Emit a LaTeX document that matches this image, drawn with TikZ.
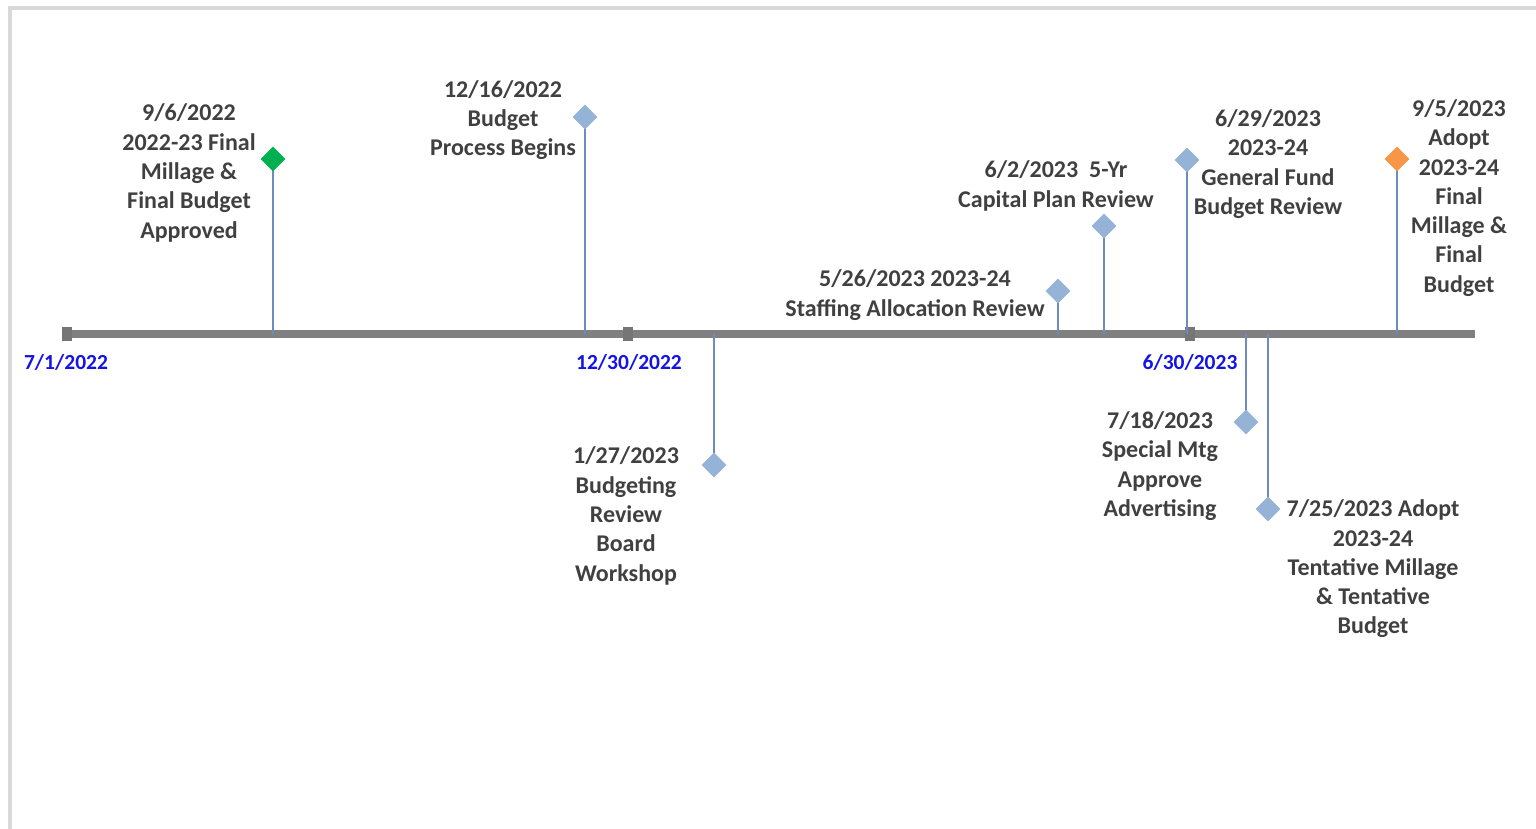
\documentclass[tikz,border=0pt]{standalone}
\usepackage{fontspec}
\setmainfont{Carlito}
\usetikzlibrary{shapes.geometric}
\definecolor{txt}{HTML}{404040}
\definecolor{dblue}{HTML}{1414E6}
\definecolor{axisgray}{HTML}{808080}
\definecolor{tickgray}{HTML}{767676}
\definecolor{stemblue}{HTML}{6A8CC0}
\definecolor{diablue}{HTML}{95B3D7}
\definecolor{diagreen}{HTML}{00B050}
\definecolor{diaorange}{HTML}{F79646}
\definecolor{framegray}{HTML}{D9D9D9}
\begin{document}
\begin{tikzpicture}[x=1pt,y=-1pt,
  lbl/.style={font=\fontsize{24}{29.3}\selectfont\bfseries, text=txt, align=center, inner sep=0pt},
  datelbl/.style={font=\fontsize{21.5}{25}\selectfont\bfseries, text=dblue, inner sep=0pt},
  dia/.style={diamond, fill=#1, draw=none, minimum width=25pt, minimum height=25pt, inner sep=0pt},
  dia/.default=diablue,
  stem/.style={draw=stemblue, line width=1.6pt},
  tickmark/.style={fill=tickgray, draw=none, minimum width=10pt, minimum height=14pt, inner sep=0pt}]
\useasboundingbox (0,0) rectangle (1536,828);
\fill[white] (0,0) rectangle (1536,828);
% frame
\draw[framegray, line width=4pt] (10,830) -- (10,8) -- (1540,8);
% axis
\coordinate (ax0) at (62,334);
\coordinate (ax1) at (1475,334);
\draw[axisgray, line width=8pt] (ax0) -- (ax1);
\node[tickmark] (t0) at (67,334) {};
\node[tickmark] (t1) at (628,334) {};
\node[tickmark] (t2) at (1190,334) {};
\node[datelbl] (l0) at (66,362) {7/1/2022};
\node[datelbl] (l1) at (629,362) {12/30/2022};
\node[datelbl] (l2) at (1190,362) {6/30/2023};

% events: axis points and diamond points
\coordinate (a1) at (273,334); \coordinate (p1) at (273,159);
\coordinate (a2) at (585,334); \coordinate (p2) at (585,117);
\coordinate (a3) at (714,334); \coordinate (p3) at (714,465);
\coordinate (a4) at (1058,334); \coordinate (p4) at (1058,291);
\coordinate (a5) at (1104,334); \coordinate (p5) at (1104,226);
\coordinate (a6) at (1187,334); \coordinate (p6) at (1187,160);
\coordinate (a7) at (1246,334); \coordinate (p7) at (1246,422);
\coordinate (a8) at (1268,334); \coordinate (p8) at (1268,509);
\coordinate (a9) at (1397,334); \coordinate (p9) at (1397,159);
\foreach \i in {1,...,9} {\draw[stem] (a\i) -- (p\i);}
\node[dia=diagreen] (d1) at (p1) {};
\node[dia] (d2) at (p2) {};
\node[dia] (d3) at (p3) {};
\node[dia] (d4) at (p4) {};
\node[dia] (d5) at (p5) {};
\node[dia] (d6) at (p6) {};
\node[dia] (d7) at (p7) {};
\node[dia] (d8) at (p8) {};
\node[dia=diaorange] (d9) at (p9) {};

% labels
\node[lbl] (e1) at (189,173) {9/6/2022\\2022-23 Final\\Millage \&\\Final Budget\\Approved};
\node[lbl] (e2) at (503,120) {12/16/2022\\Budget\\Process Begins};
\node[lbl] (e3) at (626,516) {1/27/2023\\Budgeting\\Review\\Board\\Workshop};
\node[lbl] (e4) at (915,295) {5/26/2023 2023-24\\Staffing Allocation Review};
\node[lbl] (e5) at (1056,186) {6/2/2023\ \ 5-Yr\\Capital Plan Review};
\node[lbl] (e6) at (1268,164) {6/29/2023\\2023-24\\General Fund\\Budget Review};
\node[lbl] (e7) at (1160,466) {7/18/2023\\Special Mtg\\Approve\\Advertising};
\node[lbl] (e8) at (1373,569) {7/25/2023 Adopt\\2023-24\\Tentative Millage\\\& Tentative\\Budget};
\node[lbl] (e9) at (1459,198) {9/5/2023\\Adopt\\2023-24\\Final\\Millage \&\\Final\\Budget};
\end{tikzpicture}
\end{document}
